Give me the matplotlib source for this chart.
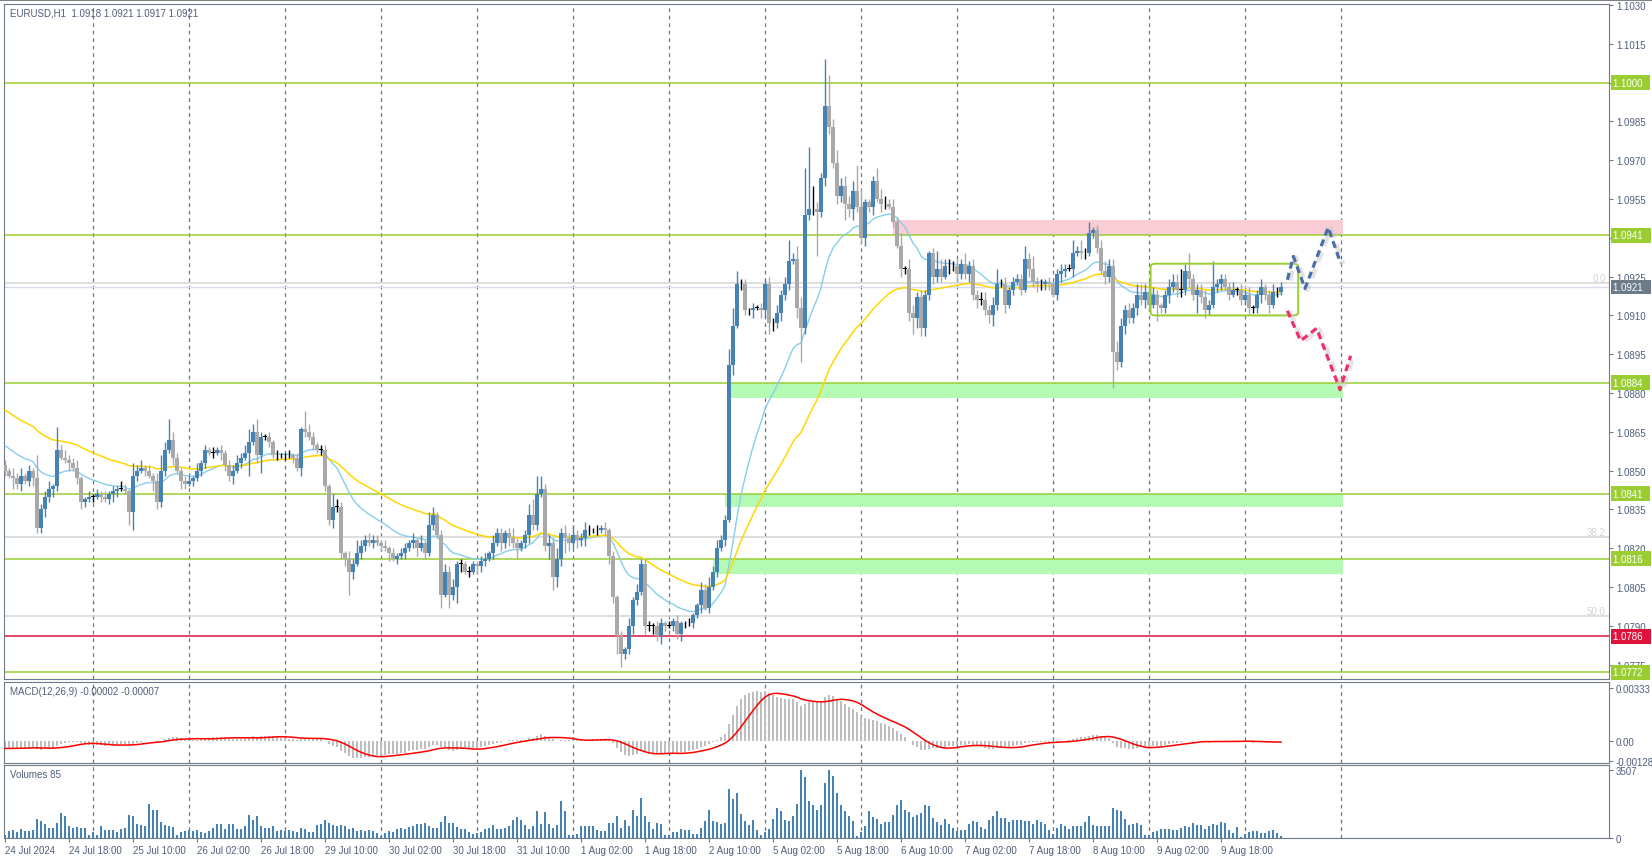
import numpy as np
import matplotlib
matplotlib.use("Agg")
import matplotlib.pyplot as plt
from matplotlib.patches import Rectangle, FancyBboxPatch
from matplotlib.transforms import blended_transform_factory

plt.rcParams["font.family"] = ["Liberation Sans", "DejaVu Sans"]

W, H = 1652, 862
BASE = 1.0700

# closes in pips above 1.0700, one per H1 bar
closes_pips = [
    150, 148, 147, 145, 148, 146, 150, 147, 128, 135,
    140, 143, 144, 158, 155, 154, 153, 151, 147, 138,
    139, 140, 140, 141, 140, 139, 141, 142, 143, 143,
    142, 134, 148, 150, 151, 150, 148, 146, 138, 150,
    158, 162, 155, 150, 146, 145, 146, 147, 150, 153,
    158, 157, 157, 158, 157, 152, 148, 150, 153, 155,
    157, 161, 165, 156, 163, 163, 161, 156, 156, 156,
    156, 156, 155, 151, 166, 165, 163, 160, 158, 158,
    144, 131, 136, 136, 118, 116, 111, 114, 118, 121,
    123, 122, 123, 122, 121, 120, 118, 116, 117, 118,
    120, 122, 123, 120, 122, 118, 129, 133, 125, 102,
    111, 102, 105, 114, 114, 111, 111, 114, 113, 115,
    116, 118, 122, 126, 122, 126, 124, 122, 120, 122,
    125, 133, 129, 141, 143, 121, 122, 109, 116, 126,
    124, 122, 125, 123, 124, 127, 127, 127, 127, 128,
    127, 117, 101, 86, 79, 81, 90, 100, 103, 114,
    90, 90, 90, 86, 91, 90, 90, 92, 87, 91,
    91, 91, 94, 98, 104, 97, 105, 111, 120, 123,
    131, 191, 206, 222, 222, 212, 212, 213, 213, 212,
    222, 207, 207, 211, 218, 222, 231, 232, 213, 205,
    249, 251, 251, 250, 263, 291, 283, 269, 256, 260,
    253, 251, 258, 252, 240, 254, 252, 262, 255, 253,
    253, 252, 246, 237, 228, 228, 211, 209, 217, 205,
    218, 234, 225, 228, 225, 229, 229, 229, 226, 230,
    226, 229, 218, 216, 216, 212, 210, 214, 222, 222,
    214, 220, 223, 224, 220, 232, 228, 223, 222, 222,
    223, 222, 218, 226, 227, 228, 228, 234, 235, 234,
    234, 242, 243, 236, 227, 225, 229, 196, 192, 206,
    212, 209, 213, 218, 216, 219, 214, 218, 214, 213,
    218, 221, 223, 220, 220, 227, 224, 218, 220, 217,
    212, 214, 221, 222, 224, 221, 218, 220, 220, 216,
    218, 213, 213, 218, 221, 218, 214, 219, 219, 221,
]
first_open_pips = 152

# wick lengths in pips (base-36 digits)
upper_wick = "".join([
    "2132312192", "2319232231", "1212121213", "2152312136", "3832122131",
    "2121212232", "3535212121", "1212173212", "2153213252", "2322121212",
    "2131315312", "3231212112", "2132212421", "2467523242", "3242232121",
    "2121213132", "2212212121", "1211324232", "2675221212", "2323238254",
    "io932ic353", "434a711254", "3232514323", "2127433232", "4232332362",
    "3122252522", "1212322524", "2412343343", "2324434321", "2333837222",
    "32a2222312", "2312312322",
])
lower_wick = "".join([
    "2142312322", "3232113123", "2121212321", "1572121432", "2131321212",
    "2121322312", "1913712121", "2121321212", "2232239312", "2121213121",
    "2123121215", "1526312132", "2121323241", "2322125543", "6323232121",
    "2327522321", "3232321223", "2121312121", "2141222313", "343232214d",
    "222h233232", "6342232313", "2121323643", "3232213232", "2323223421",
    "3121213232", "2212321312", "2122132e32", "3223232162", "2323323272",
    "3212212122", "2322323121",
])

volumes = [
    170, 350, 400, 330, 450, 380, 360, 420, 990, 900,
    730, 520, 520, 780, 1300, 1160, 600, 520, 560, 540,
    540, 170, 300, 180, 600, 430, 430, 430, 300, 480,
    500, 1210, 1160, 740, 650, 620, 1730, 1470, 1420, 810,
    690, 620, 560, 170, 300, 350, 400, 350, 420, 300,
    250, 350, 500, 700, 720, 480, 700, 700, 480, 480,
    640, 1200, 950, 1120, 640, 520, 520, 640, 350, 420,
    350, 400, 350, 300, 500, 450, 300, 300, 650, 700,
    920, 780, 650, 620, 650, 600, 480, 520, 350, 400,
    350, 400, 350, 250, 120, 250, 380, 300, 450, 500,
    480, 550, 620, 700, 730, 760, 640, 540, 530, 820,
    1160, 800, 800, 560, 480, 450, 300, 200, 250, 300,
    480, 520, 650, 480, 480, 520, 600, 920, 1090, 920,
    690, 480, 600, 1380, 700, 1330, 700, 500, 650, 1900,
    1380, 170, 170, 200, 600, 600, 600, 600, 430, 350,
    350, 780, 780, 1120, 520, 920, 600, 1420, 1160, 2040,
    1160, 810, 480, 780, 740, 170, 170, 300, 300, 470,
    400, 430, 210, 210, 520, 900, 1470, 900, 850, 710,
    780, 2510, 1990, 2300, 1260, 900, 660, 950, 430, 170,
    300, 480, 1000, 1560, 1380, 950, 870, 1120, 1730, 3507,
    3150, 1900, 1680, 1440, 1680, 2820, 3507, 3200, 2340, 1680,
    1370, 1120, 870, 90, 300, 600, 1370, 1070, 990, 740,
    810, 810, 1210, 1680, 1940, 1470, 1330, 1070, 1210, 1300,
    1680, 1640, 1040, 810, 690, 990, 700, 520, 350, 430,
    430, 740, 900, 810, 550, 470, 950, 1120, 1370, 1040,
    1040, 810, 920, 950, 920, 900, 870, 740, 950, 810,
    740, 400, 220, 520, 740, 640, 470, 600, 600, 600,
    810, 1120, 660, 600, 600, 600, 640, 1570, 1470, 1370,
    990, 660, 740, 780, 690, 170, 170, 300, 350, 480,
    480, 480, 430, 430, 540, 640, 570, 780, 690, 660,
    470, 640, 740, 660, 810, 780, 430, 260, 550, 50,
    220, 300, 350, 350, 260, 260, 350, 400, 250, 90,
]

time_labels = ["24 Jul 2024", "24 Jul 18:00", "25 Jul 10:00", "26 Jul 02:00", "26 Jul 18:00",
               "29 Jul 10:00", "30 Jul 02:00", "30 Jul 18:00", "31 Jul 10:00", "1 Aug 02:00",
               "1 Aug 18:00", "2 Aug 10:00", "5 Aug 02:00", "5 Aug 18:00", "6 Aug 10:00",
               "7 Aug 02:00", "7 Aug 18:00", "8 Aug 10:00", "9 Aug 02:00", "9 Aug 18:00"]
label_step = 16
grid_first, grid_step, grid_count = 22, 24, 14

green_levels = [1.1000, 1.0941, 1.0884, 1.0841, 1.0816, 1.0772]
red_level = 1.0786
fib_levels = [1.09225, 1.08244, 1.07938]
fib_names = ["0.0", "38.2", "50.0"]
last_price = 1.0921

support_zones = [(181.2, 1.0878, 1.0884), (180.0, 1.0836, 1.0841), (177.0, 1.0810, 1.0816)]
resist_zone = (222.0, 1.0941, 1.0947)
zone_end = 334.5
range_box = (286.4, 323.3, 1.0910, 1.0930)
bull_path_x = [320.6, 322.1, 325.0, 330.8, 333.9]
bull_path_y = [1.09238, 1.09328, 1.09204, 1.09440, 1.09302]
bear_path_x = [320.6, 323.9, 327.9, 333.75, 336.4]
bear_path_y = [1.09118, 1.09002, 1.09050, 1.08813, 1.08944]

# ---- derived series ----
close = BASE + np.array(closes_pips) / 1e4
opn = np.r_[BASE + first_open_pips / 1e4, close[:-1]]
uw = np.array([int(c, 36) for c in upper_wick]) / 1e4
lw = np.array([int(c, 36) for c in lower_wick]) / 1e4
high = np.maximum(opn, close) + uw
low = np.minimum(opn, close) - lw
n = len(close)
idx = np.arange(n)


def ema(x, period, seed):
    a = 2.0 / (period + 1)
    out, v = [], seed
    for c in x:
        v = v + a * (c - v)
        out.append(v)
    return np.array(out)


ma_fast = ema(close, 20, 1.08607)
ma_slow = ema(close, 50, 1.08744)
macd = ema(close, 12, 1.08505) - ema(close, 26, 1.08555)
signal = np.convolve(np.r_[np.full(8, macd[0]), macd], np.ones(9) / 9, mode="valid")

FRAME = "#6E7B8B"
TXT = "#4F5F7A"
GRID = "#6E7587"
GREEN = "#9ACD32"
FS = 7

fig = plt.figure(figsize=(W / 100, H / 100), dpi=100)
fig.patch.set_facecolor("white")


def add_panel(y0, y1):
    ax = fig.add_axes([4 / W, 1 - y1 / H, (1609 - 4) / W, (y1 - y0) / H])
    ax.set_xlim(-0.25, 401)
    for s in ax.spines.values():
        s.set_color(FRAME)
    ax.yaxis.tick_right()
    ax.tick_params(axis="y", length=3, color=FRAME, labelsize=FS, labelcolor=TXT, pad=2)
    ax.tick_params(axis="x", length=0, labelbottom=False)
    for k in range(grid_count):
        ax.axvline(grid_first + grid_step * k, color=GRID, lw=0.9, ls=(0, (3, 3)), zorder=1)
    return ax


ax = add_panel(5, 680)
axm = add_panel(683, 764)
axv = add_panel(766, 839)

# ---- main price panel ----
ax.set_ylim(1.076945, 1.10304)
ticks = np.round(np.arange(1.0775, 1.10301, 0.0015), 4)
ax.set_yticks(ticks)
ax.set_yticklabels([f"{t:.4f}" for t in ticks])

for lv in fib_levels:
    ax.axhline(lv, color="#D8D8D8", lw=1.2, zorder=1)
for lv, nm in zip(fib_levels, fib_names):
    ax.text(0.998, lv, nm, transform=blended_transform_factory(ax.transAxes, ax.transData),
            ha="right", va="bottom", fontsize=FS, color="#D3D3D3")
ax.axhline(last_price, color="#DADAF0", lw=1, zorder=1)

for x0, lo, hi in support_zones:
    ax.add_patch(Rectangle((x0, lo), zone_end - x0, hi - lo, fc="#B4FAB4", ec="none", zorder=1.5))
ax.add_patch(Rectangle((resist_zone[0], resist_zone[1]), zone_end - resist_zone[0],
                       resist_zone[2] - resist_zone[1], fc="#F9CCD6", ec="none", zorder=1.5))

for lv in green_levels:
    ax.axhline(lv, color=GREEN, lw=1.1, zorder=2)
ax.axhline(red_level, color="#DC143C", lw=1.1, zorder=2)

ax.plot(idx, ma_fast, color="#87CEEB", lw=1, zorder=3)
ax.plot(idx, ma_slow, color="#FFD700", lw=1.1, zorder=3)

colors = np.where(close > opn, "#4682B4", np.where(close < opn, "#A9A9A9", "black"))
ax.vlines(idx, low, high, colors=colors, lw=1, zorder=4)
body = np.abs(close - opn)
ax.bar(idx, np.maximum(body, 0.00002), bottom=np.minimum(opn, close), width=0.8,
       color=colors, zorder=5, linewidth=0)

bx0, bx1, by0, by1 = range_box
ax.add_patch(FancyBboxPatch((bx0, by0), bx1 - bx0, by1 - by0,
                            boxstyle="round,pad=0,rounding_size=1.2", mutation_aspect=0.0001,
                            fc="none", ec=GREEN, lw=1.4, zorder=6))

for px, py, col in [(bull_path_x, bull_path_y, "#4A6FA5"), (bear_path_x, bear_path_y, "#F0306A")]:
    ax.plot(np.array(px) + 0.6, np.array(py) - 0.00004, color="#C8C8C8", lw=3.5, alpha=0.5,
            ls=(0, (2.2, 1.4)), zorder=6)
    ax.plot(px, py, color=col, lw=2.3, ls=(0, (2.2, 1.4)), zorder=7)

ax.text(0.004, 0.995, "EURUSD,H1  1.0918 1.0921 1.0917 1.0921", transform=ax.transAxes,
        ha="left", va="top", fontsize=FS, color=TXT)

tr = blended_transform_factory(ax.transAxes, ax.transData)
tags = [(lv, GREEN) for lv in green_levels] + [(red_level, "#DC143C"), (last_price, "#6C7A89")]
for lv, fc in tags:
    ax.text(1.0025, lv, f"{lv:.4f}  ", transform=tr, ha="left", va="center", fontsize=FS,
            color="white", bbox=dict(boxstyle="square,pad=0.25", fc=fc, ec="none"),
            clip_on=False, zorder=10)

# ---- MACD panel ----
axm.set_ylim(-0.00138, 0.00371)
axm.set_yticks([0.00333, 0.0, -0.00128])
axm.set_yticklabels(["0.00333", "0.00", "-0.00128"])
axm.bar(idx, macd, width=0.6, color="#BEBEBE", linewidth=0, zorder=2)
axm.plot(idx, signal, color="#FF0000", lw=1.1, zorder=3)
axm.text(0.004, 0.95, "MACD(12,26,9) -0.00002 -0.00007", transform=axm.transAxes,
         ha="left", va="top", fontsize=FS, color=TXT)

# ---- volume panel ----
axv.set_ylim(0, 3769)
axv.set_yticks([0, 3507])
axv.set_yticklabels(["0", "3507"])
axv.bar(idx, volumes, width=0.62, color="#4682B4", linewidth=0, zorder=2)
axv.text(0.004, 0.95, "Volumes 85", transform=axv.transAxes, ha="left", va="top",
         fontsize=FS, color=TXT)
axv.set_xticks(np.arange(len(time_labels)) * label_step)
axv.set_xticklabels(time_labels)
axv.tick_params(axis="x", labelbottom=True, length=3, color=FRAME, labelsize=FS,
                labelcolor=TXT, pad=2)
for t in axv.get_xticklabels():
    t.set_ha("left")

fig.add_artist(plt.Line2D([0, 1], [1 - 1 / H, 1 - 1 / H], color="#808080", lw=1.5))
fig.savefig("out.png", dpi=100, facecolor="white")
